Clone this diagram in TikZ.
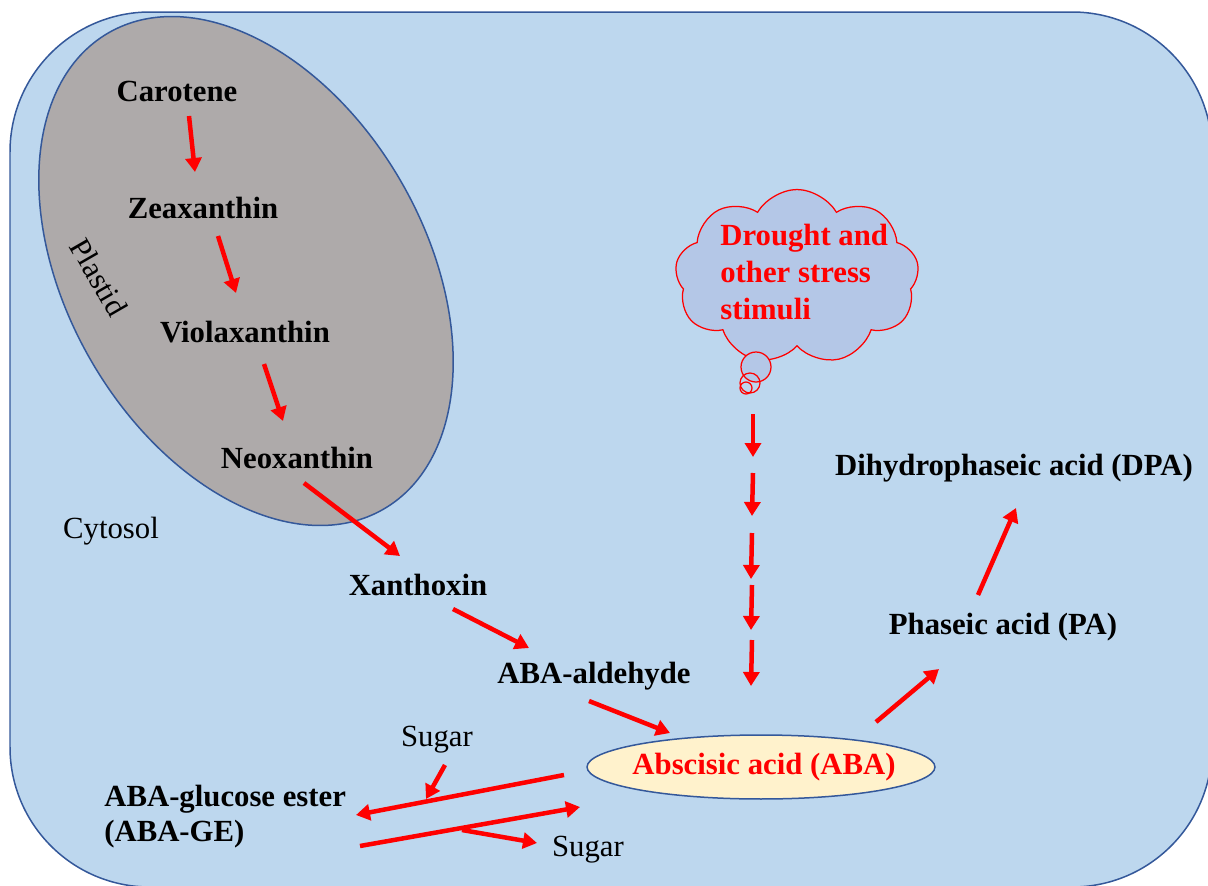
\documentclass[tikz,border=0pt]{standalone}
\usepackage{fontspec}
\setmainfont{Liberation Serif}
\usetikzlibrary{shapes.symbols,shapes.geometric,arrows.meta,calc}
\definecolor{cellfill}{HTML}{BDD7EE}
\definecolor{edgeblue}{HTML}{34589A}
\definecolor{plastidgray}{HTML}{AEAAAA}
\definecolor{abafill}{HTML}{FFF2CC}
\definecolor{cloudfill}{HTML}{B4C7E7}
\definecolor{myred}{HTML}{FF0000}
\tikzset{
  lbl/.style={inner sep=0pt, font=\fontsize{17.5}{21}\selectfont\bfseries},
  plain/.style={inner sep=0pt, font=\fontsize{17.5}{21}\selectfont},
  redarrow/.style={draw=myred, line width=0.09cm, -{Triangle[length=0.28cm,width=0.32cm]}},
}
\begin{document}
\begin{tikzpicture}[x=0.02cm,y=-0.02cm]
\useasboundingbox (0,0) rectangle (1208,886);
\clip (0,0) rectangle (1208,886);
% cell
\draw[fill=cellfill, draw=edgeblue, line width=0.03cm, rounded corners=2.8cm] (10,12) rectangle (1212,887);
% plastid
\draw[fill=plastidgray, draw=edgeblue, line width=0.03cm, shift={(246,271)}, rotate=-60] (0,0) ellipse [x radius=275, y radius=179];
\node[plain, rotate=-60] (plastid) at (99,277) {Plastid};
\node[plain] (cytosol) at (111,531) {Cytosol};
% pathway labels
\node[lbl] (car) at (177,91) {Carotene};
\node[lbl] (zea) at (203,208) {Zeaxanthin};
\node[lbl] (vio) at (245,332) {Violaxanthin};
\node[lbl] (neo) at (297,458) {Neoxanthin};
\node[lbl] (xan) at (418,585) {Xanthoxin};
\node[lbl] (ald) at (594,676) {ABA-aldehyde};
\node[ellipse, draw=edgeblue, line width=0.03cm, fill=abafill, minimum width=6.96cm, minimum height=1.28cm, inner sep=0pt] (abaell) at (761,767) {};
\node[lbl, text=myred] (aba) at (764,767) {Abscisic acid (ABA)};
\node[lbl] (pa) at (1003,627) {Phaseic acid (PA)};
\node[lbl] (dpa) at (1014,468) {Dihydrophaseic acid (DPA)};
\node[lbl, anchor=west, align=left, font=\fontsize{17.5}{20}\selectfont\bfseries] (abage) at (104,817) {ABA-glucose ester\\(ABA-GE)};
\node[plain] (sug1) at (437,740) {Sugar};
\node[plain] (sug2) at (588,850) {Sugar};
% cloud
\node[cloud, cloud puffs=9, cloud puff arc=120, cloud ignores aspect, minimum width=4.88cm, minimum height=3.5cm, draw=myred, line width=0.025cm, fill=cloudfill] (cloud) at (797,277) {};
\draw[myred, line width=0.025cm, fill=cloudfill] (756,367) circle [radius=15];
\draw[myred, line width=0.025cm] (750,383) circle [radius=10];
\draw[myred, line width=0.025cm] (746,388) circle [radius=6];
\node[lbl, text=myred, anchor=west, align=left] (stress) at (720,272) {Drought and\\other stress\\stimuli};
% arrows
\draw[redarrow] ($(car)+(12,25)$) -- ($(zea)+(-8,-36)$);
\draw[redarrow] ($(zea)+(15,28)$) -- ($(vio)+(-9,-39)$);
\draw[redarrow] ($(vio)+(19,32)$) -- ($(neo)+(-14,-37)$);
\draw[redarrow] ($(neo)+(7,25)$) -- ($(xan)+(-18,-29)$);
\draw[redarrow] ($(xan)+(35,24)$) -- ($(ald)+(-65,-28)$);
\draw[redarrow] ($(ald)+(-5,25)$) -- ($(abaell)+(-91,-34)$);
\draw[redarrow] ($(abaell)+(115,-45)$) -- ($(pa)+(-64,42)$);
\draw[redarrow] ($(pa)+(-25,-32)$) -- ($(dpa)+(2,40)$);
% stress arrows
\foreach \ya/\yb/\xa/\xb in {414/457/753/753, 473/516/753/752, 533/579/752/751, 585/630/752/751, 640/686/752/751}{
  \draw[redarrow] ($(abaell)+(\xa-761,\ya-767)$) -- ($(abaell)+(\xb-761,\yb-767)$);
}
% conjugation
\draw[redarrow] ($(abaell)+(-197,8)$) -- ($(abage.west)+(252,-2)$);
\draw[redarrow] ($(sug1)+(8,25)$) -- ($(sug1)+(-11,59)$);
\draw[redarrow] ($(abage.west)+(256,29)$) -- ($(abaell)+(-181,40)$);
\draw[redarrow] ($(sug2)+(-126,-20)$) -- ($(sug2)+(-51,-7)$);
\end{tikzpicture}
\end{document}
